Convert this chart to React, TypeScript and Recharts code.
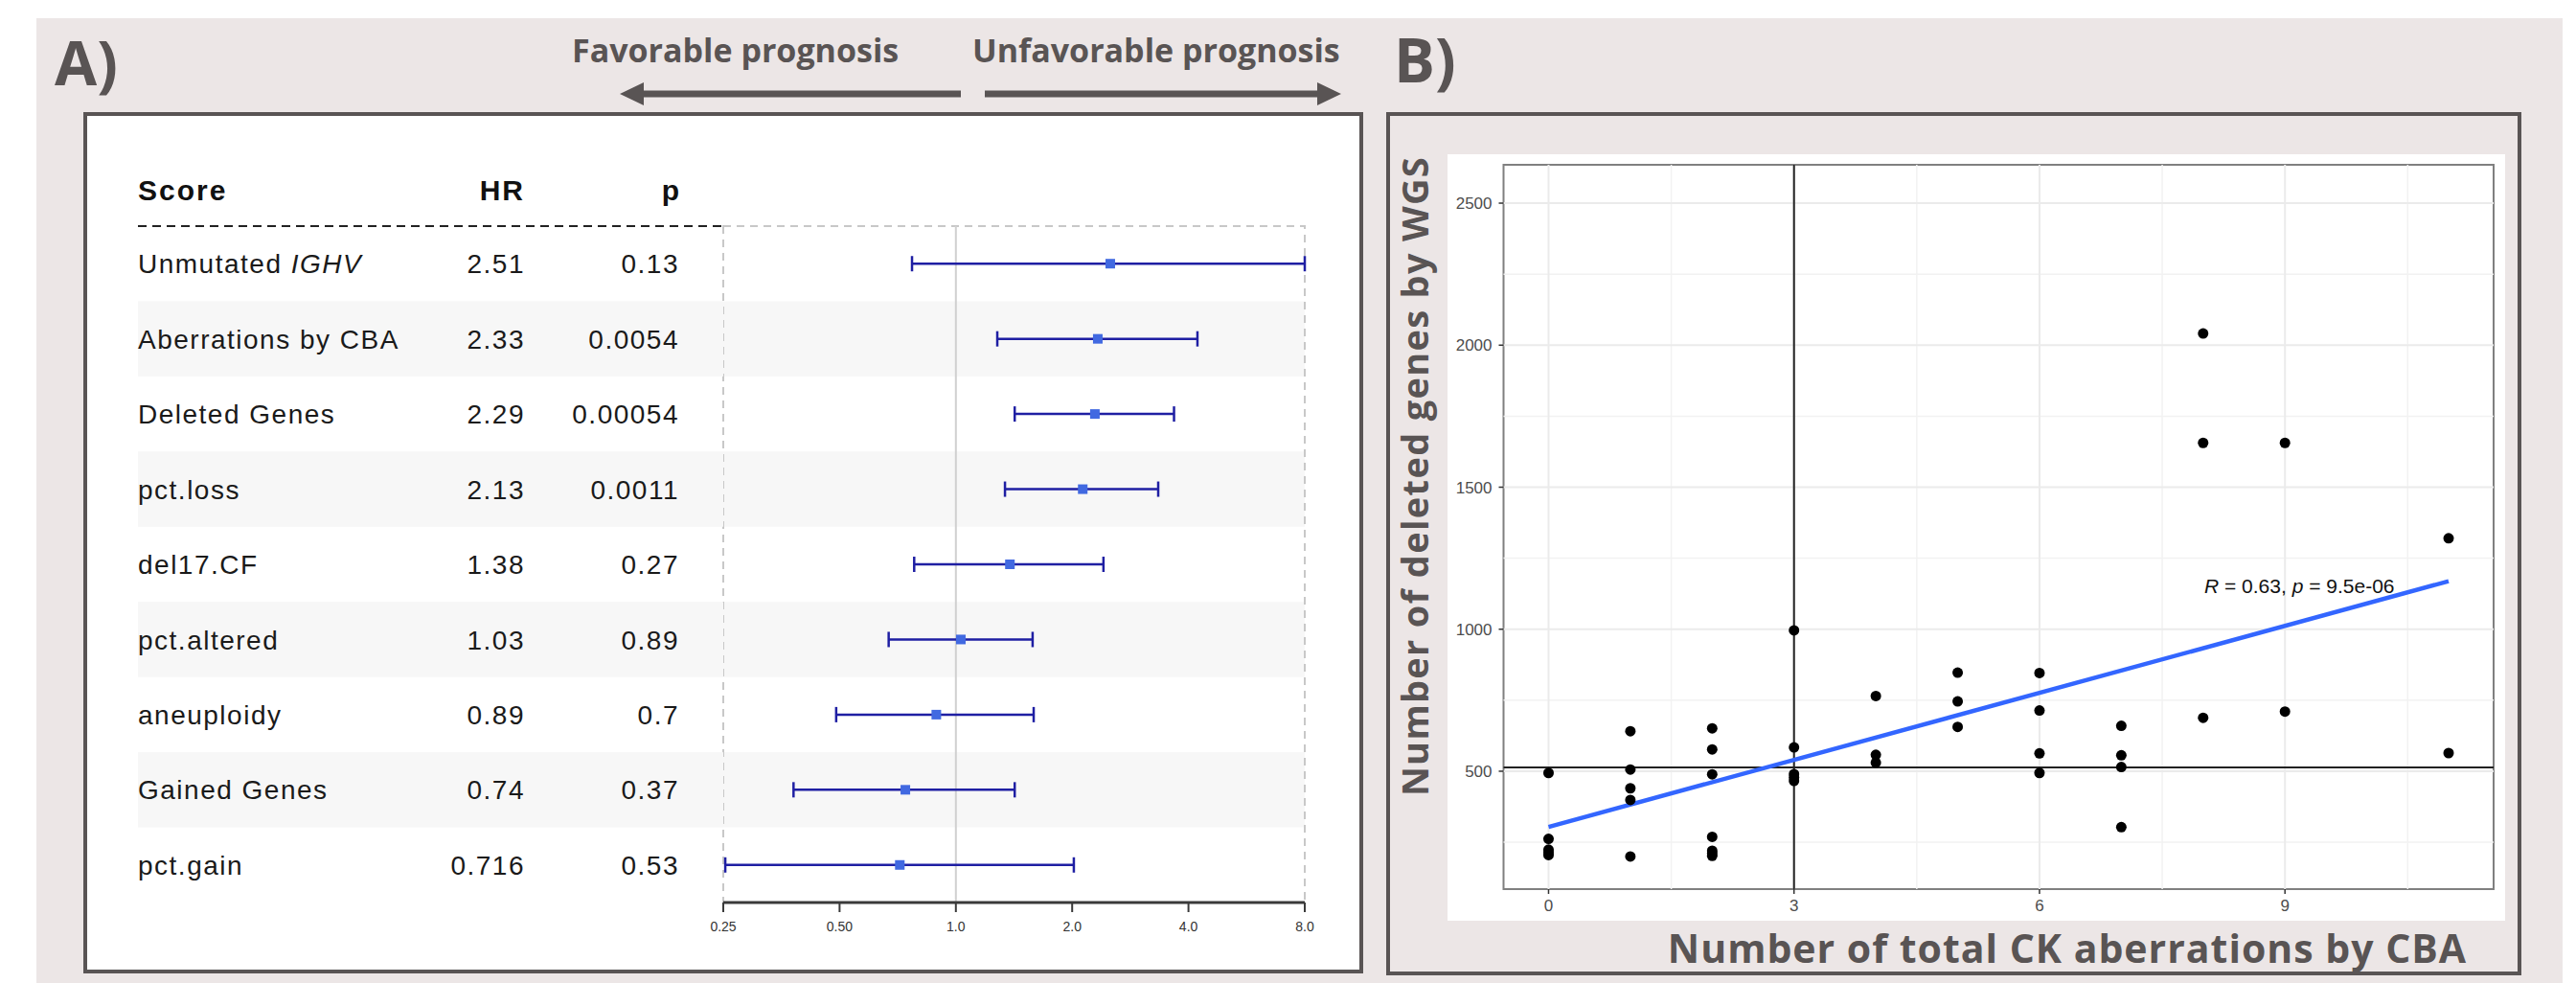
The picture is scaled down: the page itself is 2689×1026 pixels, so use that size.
import React from 'react';
import {
  ScatterChart,
  Scatter,
  XAxis,
  YAxis,
  ErrorBar,
  ReferenceArea,
  ReferenceLine,
} from 'recharts';

// ---- Panel A: Cox model forest plot ----
const SCORES = [
  'Unmutated IGHV',
  'Aberrations by CBA',
  'Deleted Genes',
  'pct.loss',
  'del17.CF',
  'pct.altered',
  'aneuploidy',
  'Gained Genes',
  'pct.gain',
];
const HR = [2.51, 2.33, 2.29, 2.13, 1.38, 1.03, 0.89, 0.74, 0.716];
const HR_LABELS = ['2.51', '2.33', '2.29', '2.13', '1.38', '1.03', '0.89', '0.74', '0.716'];
const P_LABELS = ['0.13', '0.0054', '0.00054', '0.0011', '0.27', '0.89', '0.7', '0.37', '0.53'];
const CI_LOW = [0.77, 1.28, 1.42, 1.34, 0.78, 0.67, 0.49, 0.38, 0.253];
const CI_HIGH = [8, 4.22, 3.67, 3.34, 2.41, 1.58, 1.59, 1.42, 2.02];
const HR_TICKS = [0.25, 0.5, 1, 2, 4, 8];
const HR_TICK_LABELS = ['0.25', '0.50', '1.0', '2.0', '4.0', '8.0'];

// ---- Panel B: CBA aberrations vs deleted genes ----
const CK_ABERRATIONS = [
  0, 0, 0, 0, 0,
  1, 1, 1, 1, 1,
  2, 2, 2, 2, 2, 2, 2,
  3, 3, 3, 3, 3,
  4, 4, 4,
  5, 5, 5,
  6, 6, 6, 6,
  7, 7, 7, 7,
  8, 8, 8,
  9, 9,
  11, 11,
];
const DELETED_GENES = [
  494, 262, 224, 214, 205,
  641, 506, 440, 399, 200,
  651, 577, 489, 269, 220, 211, 202,
  996, 584, 490, 478, 466,
  765, 558, 530,
  847, 746, 656,
  846, 714, 563, 494,
  660, 556, 515, 303,
  2041, 1656, 688,
  1656, 710,
  1320, 564,
];
const FIT_START = { x: 0, y: 304 };
const FIT_END = { x: 11, y: 1169 };
const CK_TICKS = [0, 3, 6, 9];
const CK_MINOR = [1.5, 4.5, 7.5, 10.5];
const GENE_TICKS = [500, 1000, 1500, 2000, 2500];
const GENE_MINOR = [250, 750, 1250, 1750, 2250];
const CK_CUTOFF = 3;
const GENE_CUTOFF = 513;

const BG = '#ece6e6';
const INK = '#595454';
const TITLE_FONT = "'Open Sans', 'DejaVu Sans', sans-serif";
const PLOT_FONT = "'Liberation Sans', Arial, sans-serif";

// chart A geometry (local to its container)
const A_TOP = 119;
const A_BOTTOM = 825;
const A_BAND = (A_BOTTOM - A_TOP) / SCORES.length;
const A_PLOT_LEFT = 668;

const forestData = SCORES.map((name, i) => ({
  name,
  hr: HR[i],
  err: [HR[i] - CI_LOW[i], CI_HIGH[i] - HR[i]],
}));

const geneData = CK_ABERRATIONS.map((x, i) => ({ x, y: DELETED_GENES[i] }));

const TableTick = (props: any) => {
  const { y, payload } = props;
  const i = SCORES.indexOf(payload.value);
  const label: string = payload.value;
  const italic = label.endsWith('IGHV');
  const textStyle = { fontFamily: PLOT_FONT, fontSize: 28, letterSpacing: 1.5, fill: '#1a1a1a' };
  return (
    <g>
      {i % 2 === 1 && (
        <rect x={57} y={y - A_BAND / 2} width={A_PLOT_LEFT - 57} height={A_BAND} fill="#f7f7f7" />
      )}
      <text x={57} y={y} dy="0.36em" style={textStyle}>
        {italic ? (
          <>
            <tspan>Unmutated </tspan>
            <tspan fontStyle="italic">IGHV</tspan>
          </>
        ) : (
          label
        )}
      </text>
      <text x={461} y={y} dy="0.36em" textAnchor="end" style={textStyle}>
        {HR_LABELS[i]}
      </text>
      <text x={622} y={y} dy="0.36em" textAnchor="end" style={textStyle}>
        {P_LABELS[i]}
      </text>
    </g>
  );
};

const BlueSquare = (p: any) => (
  <rect x={p.cx - 5} y={p.cy - 5} width={10} height={10} fill="#4169e1" />
);

const BlackDot = (p: any) => <circle cx={p.cx} cy={p.cy} r={5.5} fill="#000" />;

function ForestPanel() {
  return (
    <ScatterChart width={1336} height={899} margin={{ top: A_TOP, right: 61, bottom: 34, left: 68 }}>
      <XAxis
        type="number"
        dataKey="hr"
        scale="log"
        domain={[0.25, 8]}
        allowDataOverflow
        ticks={HR_TICKS}
        interval={0}
        tickFormatter={(v: number) => HR_TICK_LABELS[HR_TICKS.indexOf(v)] ?? String(v)}
        height={40}
        axisLine={{ stroke: '#3a3a3a', strokeWidth: 3 }}
        tickLine={{ stroke: '#3a3a3a', strokeWidth: 2 }}
        tickSize={10}
        tickMargin={10}
        tick={{ fontSize: 14, fill: '#333', fontFamily: PLOT_FONT }}
      />
      <YAxis
        type="category"
        dataKey="name"
        width={600}
        reversed
        interval={0}
        axisLine={false}
        tickLine={false}
        tick={<TableTick />}
      />
      {SCORES.map((s, i) =>
        i % 2 === 1 ? (
          <ReferenceArea key={s} y1={s} y2={s} x1={0.25} x2={8} fill="#f7f7f7" fillOpacity={1} stroke="none" />
        ) : null,
      )}
      <ReferenceArea x1={0.25} x2={8} fill="none" stroke="#c8c8c8" strokeDasharray="8 6" strokeWidth={2} />
      <ReferenceLine x={1} stroke="#d0d0d0" strokeWidth={2} />
      <Scatter data={forestData} shape={BlueSquare} isAnimationActive={false}>
        <ErrorBar dataKey="err" direction="x" width={8} stroke="#1f1fa3" strokeWidth={2.5} />
      </Scatter>
    </ScatterChart>
  );
}

function GenesPanel() {
  return (
    <ScatterChart width={1185} height={901} margin={{ top: 55, right: 29, bottom: 50, left: 62.5 }}>
      <XAxis
        type="number"
        dataKey="x"
        domain={[-0.55, 11.55]}
        allowDataOverflow
        ticks={CK_TICKS}
        interval={0}
        height={40}
        axisLine={false}
        tickLine={{ stroke: '#333', strokeWidth: 1.5 }}
        tickSize={5}
        tickMargin={6}
        tick={{ fontSize: 17, fill: '#4d4d4d', fontFamily: PLOT_FONT }}
      />
      <YAxis
        type="number"
        dataKey="y"
        domain={[85, 2635]}
        allowDataOverflow
        ticks={GENE_TICKS}
        interval={0}
        width={60}
        axisLine={false}
        tickLine={{ stroke: '#333', strokeWidth: 1.5 }}
        tickSize={5}
        tickMargin={7}
        tick={{ fontSize: 17, fill: '#4d4d4d', fontFamily: PLOT_FONT }}
      />
      {CK_MINOR.map((v) => (
        <ReferenceLine key={`xm${v}`} x={v} stroke="#f2f2f2" strokeWidth={1.5} />
      ))}
      {GENE_MINOR.map((v) => (
        <ReferenceLine key={`ym${v}`} y={v} stroke="#f2f2f2" strokeWidth={1.5} />
      ))}
      {CK_TICKS.map((v) => (
        <ReferenceLine key={`xM${v}`} x={v} stroke="#ebebeb" strokeWidth={2} />
      ))}
      {GENE_TICKS.map((v) => (
        <ReferenceLine key={`yM${v}`} y={v} stroke="#ebebeb" strokeWidth={2} />
      ))}
      <ReferenceArea x1={-0.55} x2={11.55} y1={85} y2={2635} fill="none" stroke="#808080" strokeWidth={2} />
      <ReferenceLine x={CK_CUTOFF} stroke="#222" strokeWidth={2} />
      <ReferenceLine y={GENE_CUTOFF} stroke="#222" strokeWidth={2} />
      <ReferenceLine segment={[FIT_START, FIT_END]} stroke="#3366ff" strokeWidth={4.5} />
      <Scatter data={geneData} shape={BlackDot} isAnimationActive={false} />
    </ScatterChart>
  );
}

export default function App() {
  const titleStyle = { fontFamily: TITLE_FONT, fontWeight: 700, fill: INK };
  return (
    <div style={{ position: 'absolute', left: 0, top: 0, width: 2689, height: 1026, background: '#fff', overflow: 'hidden' }}>
      <div style={{ position: 'absolute', left: 38, top: 19, width: 2637, height: 1007, background: BG }} />
      <div
        style={{
          position: 'absolute', left: 87, top: 117, width: 1336, height: 899,
          border: `4px solid ${INK}`, boxSizing: 'border-box', background: '#fff',
        }}
      />
      <div
        style={{
          position: 'absolute', left: 1447, top: 117, width: 1185, height: 901,
          border: `4px solid ${INK}`, boxSizing: 'border-box', background: BG,
        }}
      />
      <div style={{ position: 'absolute', left: 1511, top: 161, width: 1104, height: 800, background: '#fff' }} />

      <div style={{ position: 'absolute', left: 87, top: 117 }}>
        <ForestPanel />
      </div>
      <div style={{ position: 'absolute', left: 1447, top: 117 }}>
        <GenesPanel />
      </div>

      <svg width={2689} height={1026} style={{ position: 'absolute', left: 0, top: 0, pointerEvents: 'none' }}>
        <text x={57} y={89} fontSize={64} style={titleStyle}>A)</text>
        <text x={1455} y={86} fontSize={64} style={titleStyle}>B)</text>

        <text x={597} y={65} fontSize={34} style={titleStyle}>Favorable prognosis</text>
        <text x={1015} y={65} fontSize={34} style={titleStyle}>Unfavorable prognosis</text>
        <polygon points="647,98 672,86 672,94.5 1003,94.5 1003,101.5 672,101.5 672,110" fill={INK} />
        <polygon points="1400,98 1375,86 1375,94.5 1028,94.5 1028,101.5 1375,101.5 1375,110" fill={INK} />

        <g style={{ fontFamily: PLOT_FONT, fontWeight: 700, fontSize: 30, fill: '#111' }}>
          <text x={144} y={209} letterSpacing={2}>Score</text>
          <text x={548} y={209} textAnchor="end" letterSpacing={2}>HR</text>
          <text x={709} y={209} textAnchor="end">p</text>
        </g>
        <line x1={144} y1={236} x2={755} y2={236} stroke="#222" strokeWidth={2} strokeDasharray="9 6" />

        <text
          transform="translate(1491,497) rotate(-90)"
          textAnchor="middle"
          fontSize={38}
          letterSpacing={1.3}
          style={titleStyle}
        >
          Number of deleted genes by WGS
        </text>
        <text x={2158} y={1005} textAnchor="middle" fontSize={41} letterSpacing={1} style={titleStyle}>
          Number of total CK aberrations by CBA
        </text>

        <text x={2301} y={619} fontSize={21} style={{ fontFamily: PLOT_FONT, fill: '#111' }}>
          <tspan fontStyle="italic">R</tspan> = 0.63, <tspan fontStyle="italic">p</tspan> = 9.5e-06
        </text>
      </svg>
    </div>
  );
}
